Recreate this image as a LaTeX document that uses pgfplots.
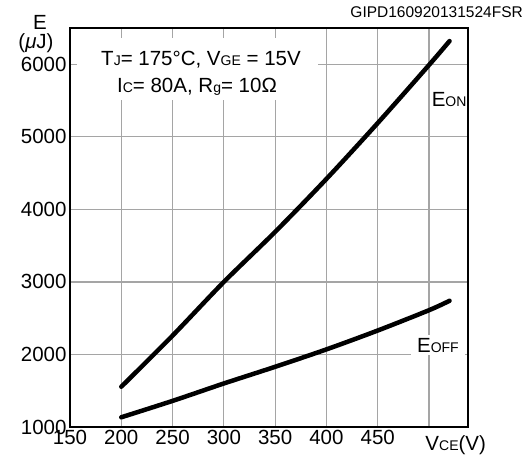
\documentclass[border=0pt]{standalone}
\usepackage{fontspec}
\setmainfont{Liberation Sans}
\usepackage{pgfplots}
\pgfplotsset{compat=1.18}

\definecolor{gridgray}{RGB}{165,165,165}
\newcommand{\lbl}{\fontsize{20.5}{24}\selectfont}
\newcommand{\sub}[1]{{\fontsize{14}{16}\selectfont #1}}

\begin{document}
\begin{tikzpicture}
\begin{axis}[
    at={(0pt,0pt)}, anchor=south west,
    scale only axis,
    width=398pt, height=399pt,
    xmin=150, xmax=538,
    ymin=1000, ymax=6500,
    xtick={150,200,250,300,350,400,450,500},
    xticklabels={150,200,250,300,350,400,450,},
    ytick={1000,2000,3000,4000,5000,6000},
    grid=major,
    grid style={gridgray, line width=1.2pt},
    major tick length=0pt,
    axis line style={line width=2.6pt},
    tick label style={font=\lbl},
    /pgf/number format/assume math mode=true,
    /pgf/number format/1000 sep={},
    clip=false,
]
% E_ON
\addplot[black, line width=4.5pt, line cap=round, smooth] coordinates {
    (200,1555)(250,2260)(300,3000)(350,3690)(400,4420)(450,5190)(500,5990)(520,6320)
};
% E_OFF
\addplot[black, line width=4.5pt, line cap=round, smooth] coordinates {
    (200,1134)(250,1360)(300,1600)(350,1830)(400,2070)(450,2330)(500,2610)(520,2740)
};

\fill[white] (axis cs:156.8,5504) rectangle (axis cs:391.7,6358);
\node[anchor=base, inner sep=0pt, font=\lbl] at (axis cs:277.7,5986)
    {T\sub{J}= 175°C, V\sub{GE} = 15V};
\node[anchor=base, inner sep=0pt, font=\lbl] at (axis cs:273.8,5614)
    {I\sub{C}= 80A, R\sub{g}= 10Ω};

\node[anchor=base west, inner sep=0pt, font=\lbl] at (axis cs:502.5,5421) {E\sub{ON}};
\node[anchor=base west, fill=white, inner xsep=6pt, inner ysep=3pt, xshift=-6pt, font=\lbl]
    at (axis cs:488.2,2033) {E\sub{OFF}};

\node[anchor=base, inner sep=0pt, font=\lbl] at (axis cs:526,1000) [yshift=-23pt] {V\sub{CE}(V)};
\node[anchor=base, inner sep=0pt, font=\lbl] at (axis cs:150,6000) [xshift=-30pt, yshift=35pt] {E};
\node[anchor=base, inner sep=0pt, font=\lbl] at (axis cs:150,6000) [xshift=-34pt, yshift=16pt] {(\textit{μ}J)};
\node[anchor=base east, inner sep=0pt, font=\fontsize{15.5}{18}\selectfont] at (rel axis cs:1,1) [xshift=55pt, yshift=10.7pt] {GIPD160920131524FSR};
\end{axis}
\pgfresetboundingbox
\path (-70pt,-28pt) rectangle (459pt,427pt);
\end{tikzpicture}
\end{document}
